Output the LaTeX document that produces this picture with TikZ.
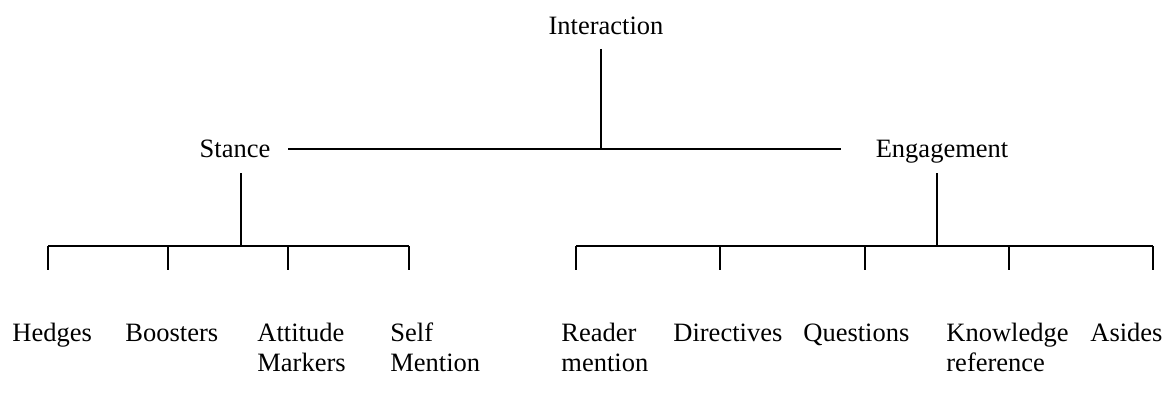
\documentclass[tikz,border=0pt]{standalone}
\usepackage{fontspec}
\setmainfont{Liberation Serif}
\tikzset{
  lbl/.style={inner sep=0pt, anchor=base, font=\fontsize{13.25}{15}\selectfont},
  leaf/.style={lbl, anchor=base west, align=left},
  branch/.style={line width=0.65pt}
}

\begin{document}
\begin{tikzpicture}[x=0.5pt,y=-0.5pt]
        \useasboundingbox (0,0) rectangle (1170,401);
        % top level
        \node[lbl] (int) at (606,35) {Interaction};
        \node[lbl] (st) at (235,157) {Stance};
        \node[lbl] (eng) at (942,157) {Engagement};
        \coordinate (int_d) at (601,49);
        \coordinate (int_j) at (601,149);
        \coordinate (st_r) at (288,149);
        \coordinate (eng_l) at (841,149);
        \draw[branch] (int_d) -- (int_j);
        \draw[branch] (st_r) -- (eng_l);
        % stance branch
        \coordinate (st_d) at (241,173);
        \draw[branch] (st_d) -- (241,246);
        \draw[branch] (48,246) -- (409,246);
        \foreach \x [count=\i] in {48,168,288,409} {
            \draw[branch] (\x,246) coordinate (s_\i) -- (\x,270);
          }
        % engagement branch
        \coordinate (eng_d) at (937,173);
        \draw[branch] (eng_d) -- (937,246);
        \draw[branch] (576,246) -- (1153,246);
        \foreach \x [count=\i] in {576,720,865,1009,1153} {
            \draw[branch] (\x,246) coordinate (e_\i) -- (\x,270);
          }
        % leaves (two-line labels are placed by their last line)
        \foreach \x/\y/\t [count=\i] in {12/341/Hedges, 125/341/Boosters, 257/371/{Attitude\\Markers}, 390/371/{Self\\Mention},
            561/371/{Reader\\mention}, 673/341/Directives, 803/341/Questions, 946/371/{Knowledge\\reference}, 1090/341/Asides} {
            \node[leaf] (leaf_\i) at (\x,\y) {\t};
          }
      \end{tikzpicture}
\end{document}
